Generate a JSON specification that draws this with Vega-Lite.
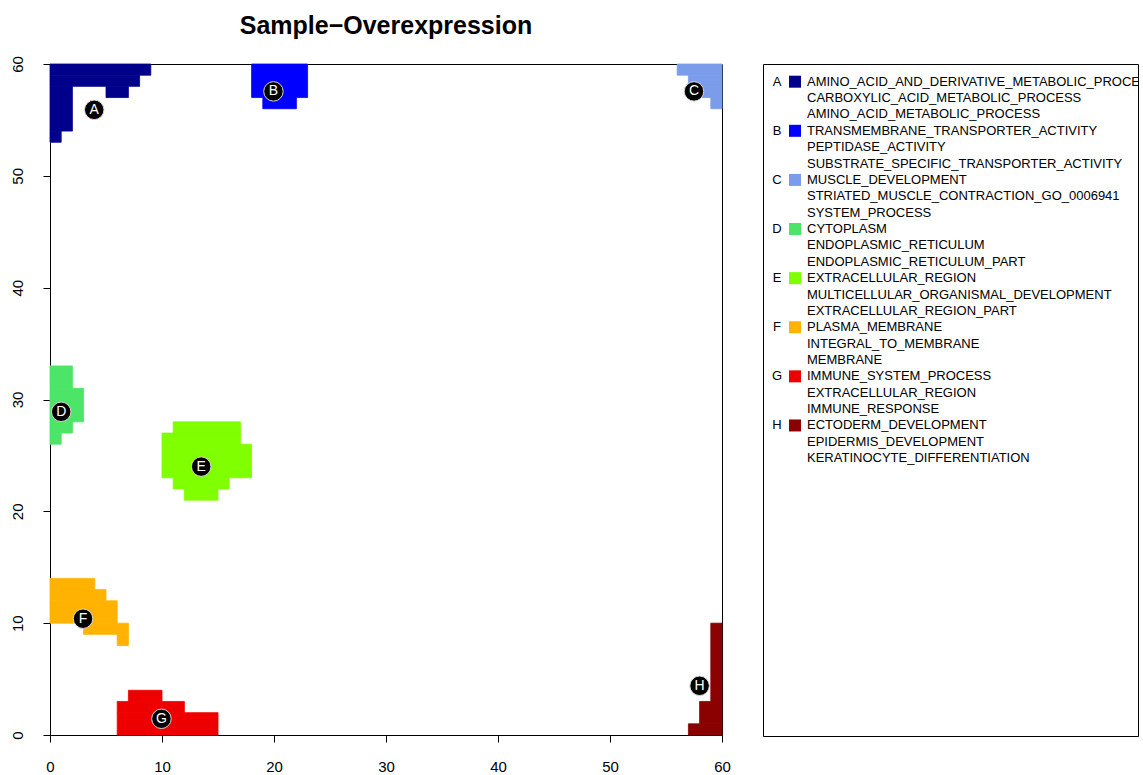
{
  "$schema": "https://vega.github.io/schema/vega-lite/v6.json",
  "autosize": {"type": "pad"},
  "padding": {"left": 9, "top": 13, "right": 5, "bottom": 0},
  "bounds": "flush",
  "spacing": 41,
  "background": "white",
  "config": {
    "font": "Liberation Sans",
    "view": {"stroke": "black", "strokeWidth": 1},
    "axis": {"grid": false, "domain": false, "tickColor": "black", "tickWidth": 1, "tickSize": 7, "labelColor": "black", "labelFont": "Liberation Sans", "labelFontSize": 15, "labelFlush": false, "labelOverlap": false, "title": null}
  },
  "datasets": {
    "cells": [
      {"cluster": "A", "x1": 0, "x2": 9, "y1": 59, "y2": 60},
      {"cluster": "A", "x1": 0, "x2": 8, "y1": 58, "y2": 59},
      {"cluster": "A", "x1": 0, "x2": 2, "y1": 54, "y2": 58},
      {"cluster": "A", "x1": 5, "x2": 7, "y1": 57, "y2": 58},
      {"cluster": "A", "x1": 0, "x2": 1, "y1": 53, "y2": 54},
      {"cluster": "B", "x1": 18, "x2": 23, "y1": 57, "y2": 60},
      {"cluster": "B", "x1": 19, "x2": 22, "y1": 56, "y2": 57},
      {"cluster": "C", "x1": 56, "x2": 60, "y1": 59, "y2": 60},
      {"cluster": "C", "x1": 57, "x2": 60, "y1": 58, "y2": 59},
      {"cluster": "C", "x1": 58, "x2": 60, "y1": 57, "y2": 58},
      {"cluster": "C", "x1": 59, "x2": 60, "y1": 56, "y2": 57},
      {"cluster": "D", "x1": 0, "x2": 2, "y1": 31, "y2": 33},
      {"cluster": "D", "x1": 0, "x2": 3, "y1": 28, "y2": 31},
      {"cluster": "D", "x1": 0, "x2": 2, "y1": 27, "y2": 28},
      {"cluster": "D", "x1": 0, "x2": 1, "y1": 26, "y2": 27},
      {"cluster": "E", "x1": 11, "x2": 17, "y1": 27, "y2": 28},
      {"cluster": "E", "x1": 10, "x2": 17, "y1": 26, "y2": 27},
      {"cluster": "E", "x1": 10, "x2": 18, "y1": 23, "y2": 26},
      {"cluster": "E", "x1": 11, "x2": 16, "y1": 22, "y2": 23},
      {"cluster": "E", "x1": 12, "x2": 15, "y1": 21, "y2": 22},
      {"cluster": "F", "x1": 0, "x2": 4, "y1": 13, "y2": 14},
      {"cluster": "F", "x1": 0, "x2": 5, "y1": 12, "y2": 13},
      {"cluster": "F", "x1": 0, "x2": 6, "y1": 10, "y2": 12},
      {"cluster": "F", "x1": 3, "x2": 7, "y1": 9, "y2": 10},
      {"cluster": "F", "x1": 6, "x2": 7, "y1": 8, "y2": 9},
      {"cluster": "G", "x1": 6, "x2": 15, "y1": 0, "y2": 2},
      {"cluster": "G", "x1": 6, "x2": 12, "y1": 2, "y2": 3},
      {"cluster": "G", "x1": 7, "x2": 10, "y1": 3, "y2": 4},
      {"cluster": "H", "x1": 59, "x2": 60, "y1": 3, "y2": 10},
      {"cluster": "H", "x1": 58, "x2": 60, "y1": 1, "y2": 3},
      {"cluster": "H", "x1": 57, "x2": 60, "y1": 0, "y2": 1}
    ],
    "labels": [
      {"cluster": "A", "x": 3.95, "y": 55.9},
      {"cluster": "B", "x": 19.95, "y": 57.55},
      {"cluster": "C", "x": 57.5, "y": 57.55},
      {"cluster": "D", "x": 1.0, "y": 28.9},
      {"cluster": "E", "x": 13.5, "y": 24.0},
      {"cluster": "F", "x": 2.95, "y": 10.4},
      {"cluster": "G", "x": 9.95, "y": 1.45},
      {"cluster": "H", "x": 58.0, "y": 4.4}
    ],
    "legend": [
      {"line": 0, "group": "A", "lead": true, "term": "AMINO_ACID_AND_DERIVATIVE_METABOLIC_PROCESS"},
      {"line": 1, "group": "A", "lead": false, "term": "CARBOXYLIC_ACID_METABOLIC_PROCESS"},
      {"line": 2, "group": "A", "lead": false, "term": "AMINO_ACID_METABOLIC_PROCESS"},
      {"line": 3, "group": "B", "lead": true, "term": "TRANSMEMBRANE_TRANSPORTER_ACTIVITY"},
      {"line": 4, "group": "B", "lead": false, "term": "PEPTIDASE_ACTIVITY"},
      {"line": 5, "group": "B", "lead": false, "term": "SUBSTRATE_SPECIFIC_TRANSPORTER_ACTIVITY"},
      {"line": 6, "group": "C", "lead": true, "term": "MUSCLE_DEVELOPMENT"},
      {"line": 7, "group": "C", "lead": false, "term": "STRIATED_MUSCLE_CONTRACTION_GO_0006941"},
      {"line": 8, "group": "C", "lead": false, "term": "SYSTEM_PROCESS"},
      {"line": 9, "group": "D", "lead": true, "term": "CYTOPLASM"},
      {"line": 10, "group": "D", "lead": false, "term": "ENDOPLASMIC_RETICULUM"},
      {"line": 11, "group": "D", "lead": false, "term": "ENDOPLASMIC_RETICULUM_PART"},
      {"line": 12, "group": "E", "lead": true, "term": "EXTRACELLULAR_REGION"},
      {"line": 13, "group": "E", "lead": false, "term": "MULTICELLULAR_ORGANISMAL_DEVELOPMENT"},
      {"line": 14, "group": "E", "lead": false, "term": "EXTRACELLULAR_REGION_PART"},
      {"line": 15, "group": "F", "lead": true, "term": "PLASMA_MEMBRANE"},
      {"line": 16, "group": "F", "lead": false, "term": "INTEGRAL_TO_MEMBRANE"},
      {"line": 17, "group": "F", "lead": false, "term": "MEMBRANE"},
      {"line": 18, "group": "G", "lead": true, "term": "IMMUNE_SYSTEM_PROCESS"},
      {"line": 19, "group": "G", "lead": false, "term": "EXTRACELLULAR_REGION"},
      {"line": 20, "group": "G", "lead": false, "term": "IMMUNE_RESPONSE"},
      {"line": 21, "group": "H", "lead": true, "term": "ECTODERM_DEVELOPMENT"},
      {"line": 22, "group": "H", "lead": false, "term": "EPIDERMIS_DEVELOPMENT"},
      {"line": 23, "group": "H", "lead": false, "term": "KERATINOCYTE_DIFFERENTIATION"}
    ]
  },
  "hconcat": [
    {
      "width": 672,
      "height": 671,
      "title": {"text": "Sample−Overexpression", "font": "Liberation Sans", "fontSize": 25, "fontWeight": "bold", "color": "black", "anchor": "middle", "baseline": "alphabetic", "offset": -3},
      "layer": [
        {
          "data": {"name": "cells"},
          "mark": {"type": "rect", "strokeWidth": 0.8},
          "encoding": {
            "x": {"field": "x1", "type": "quantitative", "scale": {"domain": [0, 60], "nice": false, "zero": false}, "axis": {"values": [0, 10, 20, 30, 40, 50, 60], "labelPadding": 17, "labelBaseline": "top", "labelAlign": "center"}},
            "x2": {"field": "x2"},
            "y": {"field": "y1", "type": "quantitative", "scale": {"domain": [0, 60], "nice": false, "zero": false}, "axis": {"values": [0, 10, 20, 30, 40, 50, 60], "labelAngle": 270, "labelAlign": "center", "labelBaseline": "alphabetic", "labelPadding": 21}},
            "y2": {"field": "y2"},
            "color": {"field": "cluster", "type": "nominal", "scale": {"domain": ["A", "B", "C", "D", "E", "F", "G", "H"], "range": ["#00008B", "#0000FF", "#7B9CEB", "#4DE567", "#7FFF00", "#FFB300", "#EE0000", "#8B0000"]}, "legend": null},
            "stroke": {"field": "cluster", "type": "nominal", "scale": {"domain": ["A", "B", "C", "D", "E", "F", "G", "H"], "range": ["#00008B", "#0000FF", "#7B9CEB", "#4DE567", "#7FFF00", "#FFB300", "#EE0000", "#8B0000"]}, "legend": null}
          }
        },
        {
          "data": {"name": "labels"},
          "mark": {"type": "point", "filled": true, "color": "black", "opacity": 1, "size": 380, "stroke": "#d8d8d8", "strokeWidth": 1},
          "encoding": {
            "x": {"field": "x", "type": "quantitative"},
            "y": {"field": "y", "type": "quantitative"}
          }
        },
        {
          "data": {"name": "labels"},
          "mark": {"type": "text", "color": "white", "fontSize": 14, "font": "Liberation Sans", "align": "center", "baseline": "middle"},
          "encoding": {
            "x": {"field": "x", "type": "quantitative"},
            "y": {"field": "y", "type": "quantitative"},
            "text": {"field": "cluster"}
          }
        }
      ]
    },
    {
      "width": 375,
      "height": 672,
      "data": {"name": "legend"},
      "encoding": {
        "y": {"field": "line", "type": "quantitative", "scale": {"domain": [-1.081, 39.97], "reverse": true, "nice": false, "zero": false}, "axis": null}
      },
      "layer": [
        {
          "transform": [{"filter": "datum.lead"}],
          "mark": {"type": "text", "fontSize": 13, "font": "Liberation Sans", "align": "center", "baseline": "middle", "color": "black"},
          "encoding": {
            "x": {"datum": 14, "type": "quantitative", "scale": {"domain": [0, 375], "nice": false, "zero": false}, "axis": null},
            "text": {"field": "group"}
          }
        },
        {
          "transform": [{"filter": "datum.lead"}],
          "mark": {"type": "point", "shape": "square", "filled": true, "opacity": 1, "size": 144},
          "encoding": {
            "x": {"datum": 32, "type": "quantitative"},
            "color": {"field": "group", "type": "nominal", "scale": {"domain": ["A", "B", "C", "D", "E", "F", "G", "H"], "range": ["#00008B", "#0000FF", "#7B9CEB", "#4DE567", "#7FFF00", "#FFB300", "#EE0000", "#8B0000"]}, "legend": null}
          }
        },
        {
          "mark": {"type": "text", "fontSize": 13, "font": "Liberation Sans", "align": "left", "baseline": "middle", "color": "black", "clip": true},
          "encoding": {
            "x": {"datum": 44, "type": "quantitative"},
            "text": {"field": "term"}
          }
        }
      ]
    }
  ]
}
